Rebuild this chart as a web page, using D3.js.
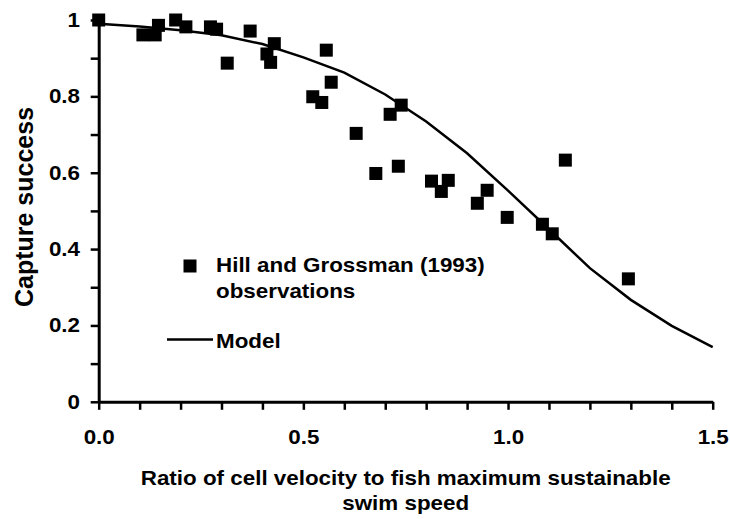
<!DOCTYPE html>
<html>
  <head>
    <meta charset="utf-8">
    <script src="https://cdn.jsdelivr.net/npm/d3@7"></script>
    <style>
      body { margin: 0; background: #fff; }
      text { font-family: "Liberation Sans", Arial, sans-serif; font-weight: bold; fill: #000; }
    </style>
  </head>
  <body>
    <svg width="730" height="519"></svg>
    <script>

        // Hill and Grossman (1993) observations
        var obsX = [0.00, 0.108, 0.138, 0.146, 0.188, 0.213, 0.273, 0.288, 0.314, 0.370,
                    0.411, 0.420, 0.429, 0.523, 0.545, 0.556, 0.568, 0.629, 0.739, 0.712,
                    0.677, 0.732, 0.813, 0.854, 0.837, 0.925, 0.949, 0.998, 1.084, 1.108,
                    1.140, 1.294];
        var obsY = [1.00, 0.961, 0.961, 0.986, 1.00, 0.982, 0.982, 0.976, 0.887, 0.971,
                    0.911, 0.889, 0.938, 0.799, 0.784, 0.921, 0.837, 0.703, 0.777, 0.753,
                    0.598, 0.617, 0.578, 0.580, 0.551, 0.520, 0.554, 0.483, 0.465, 0.440,
                    0.633, 0.322];

        // Model curve
        var modelX = [0, 0.1, 0.2, 0.3, 0.4, 0.5, 0.6, 0.7, 0.8, 0.9, 1.0, 1.1, 1.2, 1.3, 1.4, 1.5];
        var modelY = [0.990, 0.983, 0.973, 0.960, 0.937, 0.902, 0.862, 0.805, 0.734, 0.651,
                      0.553, 0.452, 0.350, 0.267, 0.199, 0.143];

        // Ticks
        var xTicks = [0, 0.1, 0.2, 0.3, 0.4, 0.5, 0.6, 0.7, 0.8, 0.9, 1.0, 1.1, 1.2, 1.3, 1.4, 1.5];
        var xLabels = ["0.0", "0.5", "1.0", "1.5"];
        var yTicks = [0, 0.1, 0.2, 0.3, 0.4, 0.5, 0.6, 0.7, 0.8, 0.9, 1.0];
        var yLabels = ["0", "0.2", "0.4", "0.6", "0.8", "1"];

        var fontSize = 20;
        var stretch = 1.12;   // text in the picture is a bit wider than it is tall

        var svg = d3.select("svg");

        var xScale = d3.scaleLinear().domain([0, 1.5]).range([98.7, 712.7]);
        var yScale = d3.scaleLinear().domain([0, 1]).range([401.8, 20]);

        // text helper, stretched sideways around its anchor point
        function label(x, y, str, anchor) {
          return svg.append("text")
            .attr("transform", "translate(" + x + "," + y + ") scale(" + stretch + ",1)")
            .attr("text-anchor", anchor || "start")
            .style("font-size", fontSize + "px")
            .text(str);
        }

        // Y axis
        var yAxis = svg.append("g")
          .attr("transform", "translate(" + xScale(0) + ",0)")
          .call(d3.axisLeft(yScale).tickValues(yTicks).tickSize(8).tickSizeOuter(0)
            .tickFormat(function(d) {
              var i = Math.round(d * 10);
              return i % 2 == 0 ? yLabels[i / 2] : "";
            }));
        yAxis.select(".domain").attr("stroke-width", 3);
        yAxis.selectAll(".tick line").attr("stroke-width", 2.5);
        yAxis.selectAll(".tick text")
          .attr("x", -18.7 / stretch)
          .attr("transform", "scale(" + stretch + ",1)")
          .style("font-size", fontSize + "px")
          .style("font-family", null);

        // X axis
        var xAxis = svg.append("g")
          .attr("transform", "translate(0," + yScale(0) + ")")
          .call(d3.axisBottom(xScale).tickValues(xTicks).tickSize(8).tickSizeOuter(0).tickPadding(20)
            .tickFormat(function(d) {
              var i = Math.round(d * 10);
              return i % 5 == 0 ? xLabels[i / 5] : "";
            }));
        xAxis.select(".domain").attr("stroke-width", 3);
        xAxis.selectAll(".tick line").attr("stroke-width", 2.5);
        xAxis.selectAll(".tick text")
          .attr("transform", "scale(" + stretch + ",1)")
          .style("font-size", fontSize + "px")
          .style("font-family", null);

        // Model line
        var line = d3.line()
          .x(function(d, i) { return xScale(modelX[i]); })
          .y(function(d, i) { return yScale(modelY[i]); });
        svg.append("path")
          .datum(modelY)
          .attr("d", line)
          .attr("fill", "none")
          .attr("stroke", "#000")
          .attr("stroke-width", 2.5);

        // Observations
        var size = 13;
        svg.selectAll(".obs")
          .data(obsY)
          .enter()
          .append("rect")
          .attr("class", "obs")
          .attr("x", function(d, i) { return xScale(obsX[i]) - size / 2; })
          .attr("y", function(d) { return yScale(d) - size / 2; })
          .attr("width", size)
          .attr("height", size)
          .attr("fill", "#000");

        // Legend
        svg.append("rect")
          .attr("x", 183.5).attr("y", 259.5)
          .attr("width", size).attr("height", size)
          .attr("fill", "#000");
        label(216, 271.5, "Hill and Grossman (1993)");
        label(216, 297.5, "observations");
        svg.append("line")
          .attr("x1", 167).attr("x2", 213)
          .attr("y1", 339.5).attr("y2", 339.5)
          .attr("stroke", "#000").attr("stroke-width", 2.5);
        label(216, 347.5, "Model");

        // Axis titles
        label(405.7, 485, "Ratio of cell velocity to fish maximum sustainable", "middle");
        label(405.7, 510, "swim speed", "middle");
        svg.append("text")
          .attr("transform", "translate(33,207) rotate(-90)")
          .attr("text-anchor", "middle")
          .style("font-size", "25px")
          .text("Capture success");

    </script>
  </body>
</html>
